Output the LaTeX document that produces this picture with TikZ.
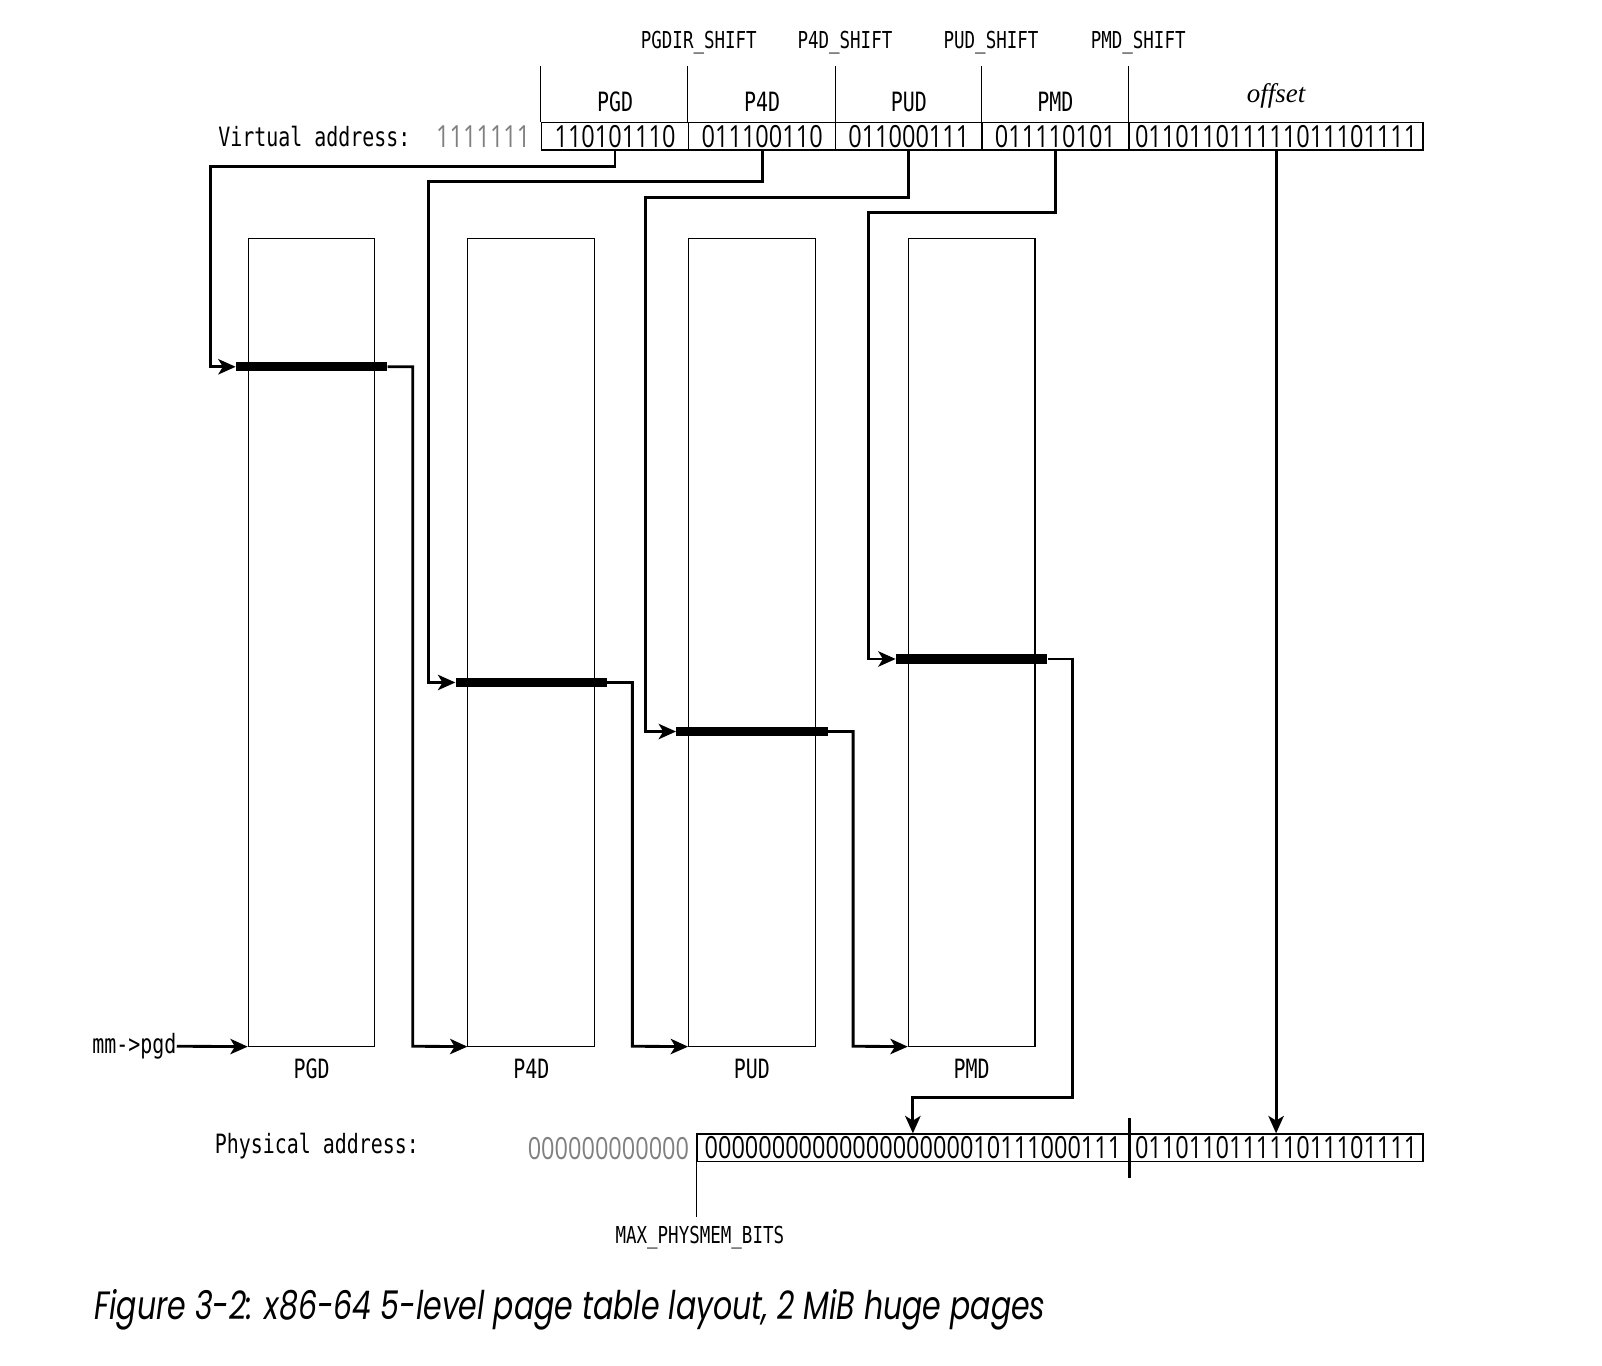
\documentclass[tikz,border=0pt]{standalone}
\usepackage{fontspec}
\usetikzlibrary{arrows.meta,positioning}
\newfontfamily\addrmono[FakeStretch=0.75]{DejaVu Sans Mono}
\newfontfamily\bitsfont[FakeStretch=0.77]{Open Sans}
\newfontfamily\captionfont[FakeStretch=0.76]{Poppins}
\newfontfamily\offsetfont{Liberation Serif}
\definecolor{signgrey}{gray}{0.5}

\begin{document}
\begin{tikzpicture}[x=0.02cm, y=-0.02cm,
	mono/.style={font=\addrmono\fontsize{14.8}{16}\selectfont, inner sep=0pt},
	smallmono/.style={font=\addrmono\fontsize{13}{14}\selectfont, inner sep=0pt},
	bits/.style={font=\bitsfont\fontsize{17}{19}\selectfont, inner sep=0pt},
	field/.style={draw, line width=0.8pt, minimum height=0.54cm, bits},
	pagetable/.style={draw, line width=0.6pt, minimum width=2.48cm, minimum height=15.82cm, inner sep=0pt},
	tblentry/.style={fill=black, minimum width=2.96cm, minimum height=0.18cm, inner sep=0pt},
	link/.style={line width=1.6pt, -{Stealth[length=0.34cm, width=0.3cm, inset=0.09cm]}},
	divider/.style={line width=0.6pt}]
		\useasboundingbox (0,0) rectangle (1568,1337);

		\node[mono, anchor=east] (vlabel) at (402,134) {Virtual address:};
		\node[bits, text=signgrey] (vsign) at (473,134) {1111111};
		\node[field, minimum width=2.88cm] (vpgd) at (602,133.5) {110101110};
		\node[field, minimum width=2.88cm] (vp4d) at (746,133.5) {011100110};
		\node[field, minimum width=2.86cm] (vpud) at (889.5,133.5) {011000111};
		\node[field, minimum width=2.88cm] (vpmd) at (1033,133.5) {011110101};
		\node[field, minimum width=5.76cm] (voff) at (1249,133.5) {011011011111011101111};

		\foreach \f in {vpgd,vp4d,vpud,vpmd,voff}
			\draw[divider] (\f.north west) -- ++(0,-55);

		\node[mono] (lvpgd) at (602,100) {PGD};
		\node[mono] (lvp4d) at (746,100) {P4D};
		\node[mono] (lvpud) at (889.5,100) {PUD};
		\node[mono] (lvpmd) at (1033,100) {PMD};
		\node[font=\offsetfont\itshape\fontsize{15}{17}\selectfont, inner sep=0pt] (lvoff) at (1249,94) {offset};

		\node[smallmono] (spgd) at (684,42) {PGDIR\_SHIFT};
		\node[smallmono] (sp4d) at (827,42) {P4D\_SHIFT};
		\node[smallmono] (spud) at (970,42) {PUD\_SHIFT};
		\node[smallmono] (spmd) at (1114,42) {PMD\_SHIFT};

		\node[pagetable] (tpgd) at (305,628.5) {};
		\node[pagetable] (tp4d) at (520,628.5) {};
		\node[pagetable] (tpud) at (736,628.5) {};
		\node[pagetable] (tpmd) at (951,628.5) {};

		\node[mono] (lpgd) at (305,1046) {PGD};
		\node[mono] (lp4d) at (520,1046) {P4D};
		\node[mono] (lpud) at (736,1046) {PUD};
		\node[mono] (lpmd) at (951,1046) {PMD};

		\node[tblentry] (epgd) at (305,359) {};
		\node[tblentry] (ep4d) at (520,668) {};
		\node[tblentry] (epud) at (736,716) {};
		\node[tblentry] (epmd) at (951,645) {};

		\node[mono, anchor=west] (plabel) at (210,1122) {Physical address:};
		\node[bits, text=signgrey] (psign) at (595.5,1124) {000000000000};
		\node[field, minimum width=8.46cm] (plo) at (893.5,1123.5) {0000000000000000000010111000111};
		\node[field, minimum width=5.76cm] (poff) at (1249,1123.5) {011011011111011101111};
		\draw[line width=1.6pt] ([yshift=0.3cm]plo.north east) -- ([yshift=-0.3cm]plo.south east);

		\draw[divider] (plo.south west) -- ++(0,53);
		\node[smallmono] (maxbits) at (685,1211) {MAX\_PHYSMEM\_BITS};

		\node[mono, anchor=east] (mm) at (173,1024) {mm->pgd};
		\draw[link] (mm.east) -- (tpgd.south west);

		\draw[link] (vpgd.south) |- (206,163) |- (epgd.west);
		\draw[link] (vp4d.south) |- (419,178) |- (ep4d.west);
		\draw[link] (vpud.south) |- (632,193) |- (epud.west);
		\draw[link] (vpmd.south) |- (850,208) |- (epmd.west);
		\draw[link] (voff.south) -- (poff.north);

		\draw[link] (epgd.east) -| (404,1024) -- (tp4d.south west);
		\draw[link] (ep4d.east) -| (619,1024) -- (tpud.south west);
		\draw[link] (epud.east) -| (835,1024) -- (tpmd.south west);
		\draw[link] (epmd.east) -| (1050,1074) -| (plo.north);

		\node[font=\captionfont\itshape\fontsize{22}{26}\selectfont, anchor=west, inner sep=0pt] (caption) at (92,1282) {Figure 3-2: x86-64 5-level page table layout, 2 MiB huge pages};
	\end{tikzpicture}
\end{document}
